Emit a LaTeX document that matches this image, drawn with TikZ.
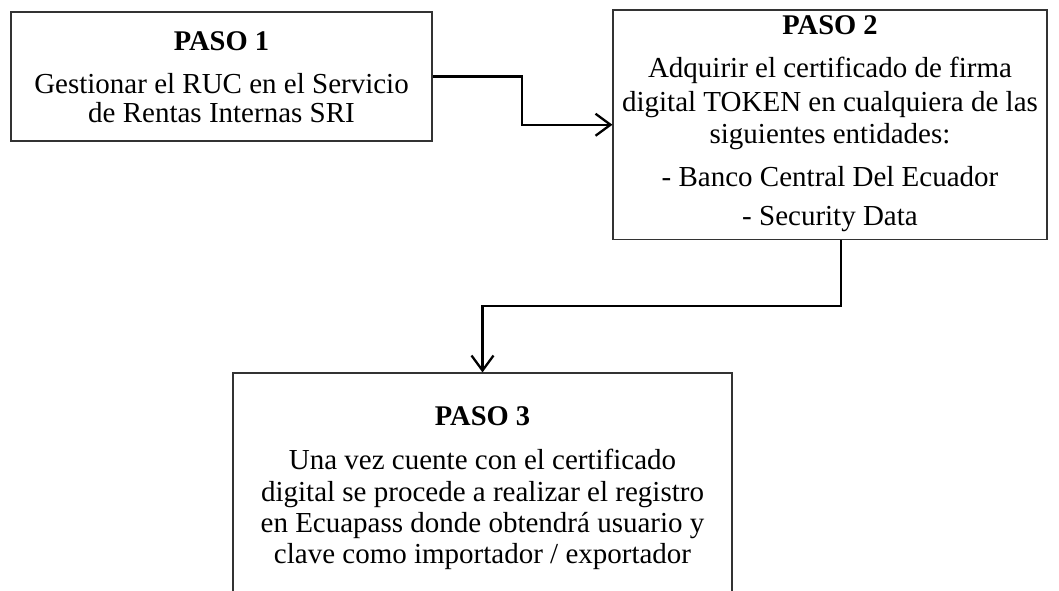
\documentclass[tikz,border=0pt]{standalone}
\usepackage{fontspec}
\setmainfont{Liberation Serif}
\usetikzlibrary{arrows.meta}
\tikzset{
  box/.style={draw=black!80, line width=1.1pt, inner sep=0pt, fill=none},
  ttl/.style={anchor=base, inner sep=0pt, font=\fontsize{28.5}{30}\selectfont\bfseries},
  txt/.style={anchor=base, inner sep=0pt, font=\fontsize{29}{31}\selectfont},
  arr/.style={line width=2.3pt, -{Straight Barb[length=15pt,width=22pt,line width=2.3pt]}}
}
\begin{document}
\begin{tikzpicture}[x=1pt,y=-1pt]
\useasboundingbox (0,0) rectangle (1059,591);
\clip (0,0) rectangle (1059,591);
% boxes
\node[box, minimum width=421pt, minimum height=129pt] (b1) at (221.5,76.5) {};
\node[box, minimum width=434pt, minimum height=229.5pt] (b2) at (830,124.75) {};
\node[box, minimum width=499pt, minimum height=227pt] (b3) at (482.5,486.5) {};
% box 1 text
\node[ttl] (t1) at (221.5,51) {PASO 1};
\node[txt] (t1a) at (221.5,94) {Gestionar el RUC en el Servicio};
\node[txt] (t1b) at (221.5,123) {de Rentas Internas SRI};
% box 2 text
\node[ttl] (t2) at (830,35) {PASO 2};
\node[txt] (t2a) at (830,78) {Adquirir el certificado de firma};
\node[txt] (t2b) at (830,111) {digital TOKEN en cualquiera de las};
\node[txt] (t2c) at (830,143) {siguientes entidades:};
\node[txt] (t2d) at (830,186) {- Banco Central Del Ecuador};
\node[txt] (t2e) at (830,225) {- Security Data};
% box 3 text
\node[ttl] (t3) at (482.5,425) {PASO 3};
\node[txt] (t3a) at (482.5,469) {Una vez cuente con el certificado};
\node[txt] (t3b) at (482.5,501) {digital se procede a realizar el registro};
\node[txt] (t3c) at (482.5,532) {en Ecuapass donde obtendrá usuario y};
\node[txt] (t3d) at (482.5,563) {clave como importador / exportador};
% connectors
\coordinate (k1) at (522,76.5);
\coordinate (k2) at (841,306);
\draw[arr] (b1.east) -- (k1) |- (b2.west);
\draw[arr] (b2.south -| k2) -- (k2) -| (b3.north);
\end{tikzpicture}
\end{document}
